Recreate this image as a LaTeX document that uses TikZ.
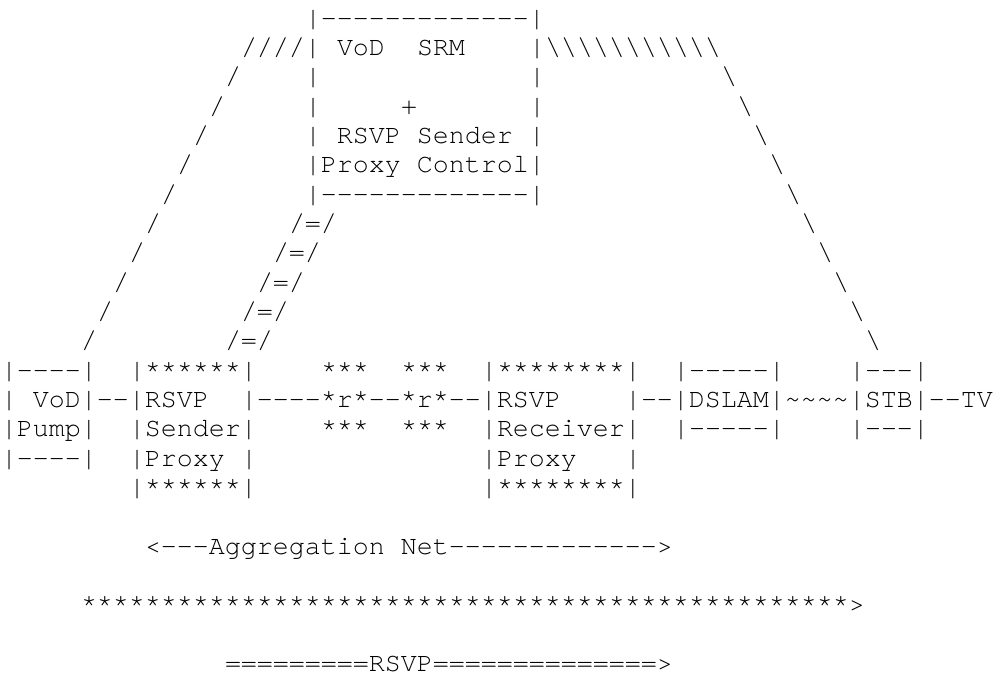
\documentclass[tikz,border=0pt]{standalone}
\usepackage{fontspec}
\setmonofont{TeX Gyre Cursor}
\newcommand\bs{\textbackslash}
\newcommand\tld{\textasciitilde}
\newcommand\asc[3]{\node[txt] (l#1c#2) at ({1+16*#2},{650.7-29.333*(#1-1)}) {#3};}
\begin{document}
\begin{tikzpicture}[x=1bp,y=1bp,
  txt/.style={font=\ttfamily\fontsize{26.66bp}{29.33bp}\selectfont, inner sep=0pt, outer sep=0pt, anchor=base west}]
\useasboundingbox (0,0) rectangle (996,677);
% row 1
\asc{1}{19}{|-------------|}
% row 2
\asc{2}{15}{////|}
\asc{2}{21}{VoD}
\asc{2}{26}{SRM}
\asc{2}{33}{|\bs\bs\bs\bs\bs\bs\bs\bs\bs\bs\bs}
% row 3
\asc{3}{14}{/}
\asc{3}{19}{|}
\asc{3}{33}{|}
\asc{3}{45}{\bs}
% row 4
\asc{4}{13}{/}
\asc{4}{19}{|}
\asc{4}{25}{+}
\asc{4}{33}{|}
\asc{4}{46}{\bs}
% row 5
\asc{5}{12}{/}
\asc{5}{19}{| RSVP Sender |}
\asc{5}{47}{\bs}
% row 6
\asc{6}{11}{/}
\asc{6}{19}{|Proxy Control|}
\asc{6}{48}{\bs}
% row 7
\asc{7}{10}{/}
\asc{7}{19}{|-------------|}
\asc{7}{49}{\bs}
% rows 8-12
\asc{8}{9}{/}
\asc{8}{18}{/=/}
\asc{8}{50}{\bs}
\asc{9}{8}{/}
\asc{9}{17}{/=/}
\asc{9}{51}{\bs}
\asc{10}{7}{/}
\asc{10}{16}{/=/}
\asc{10}{52}{\bs}
\asc{11}{6}{/}
\asc{11}{15}{/=/}
\asc{11}{53}{\bs}
\asc{12}{5}{/}
\asc{12}{14}{/=/}
\asc{12}{54}{\bs}
% row 13
\asc{13}{0}{|----|}
\asc{13}{8}{|******|}
\asc{13}{20}{***}
\asc{13}{25}{***}
\asc{13}{30}{|********|}
\asc{13}{42}{|-----|}
\asc{13}{53}{|---|}
% row 14
\asc{14}{0}{| VoD|--|RSVP}
\asc{14}{15}{|----*r*--*r*--|RSVP}
\asc{14}{39}{|--|DSLAM|\tld\tld\tld\tld|STB|--TV}
% row 15
\asc{15}{0}{|Pump|}
\asc{15}{8}{|Sender|}
\asc{15}{20}{***}
\asc{15}{25}{***}
\asc{15}{30}{|Receiver|}
\asc{15}{42}{|-----|}
\asc{15}{53}{|---|}
% row 16
\asc{16}{0}{|----|}
\asc{16}{8}{|Proxy}
\asc{16}{15}{|}
\asc{16}{30}{|Proxy}
\asc{16}{39}{|}
% row 17
\asc{17}{8}{|******|}
\asc{17}{30}{|********|}
% row 19
\asc{19}{9}{<---Aggregation Net------------->}
% row 21
\asc{21}{5}{************************************************>}
% row 23
\asc{23}{14}{=========RSVP==============>}
\end{tikzpicture}
\end{document}
